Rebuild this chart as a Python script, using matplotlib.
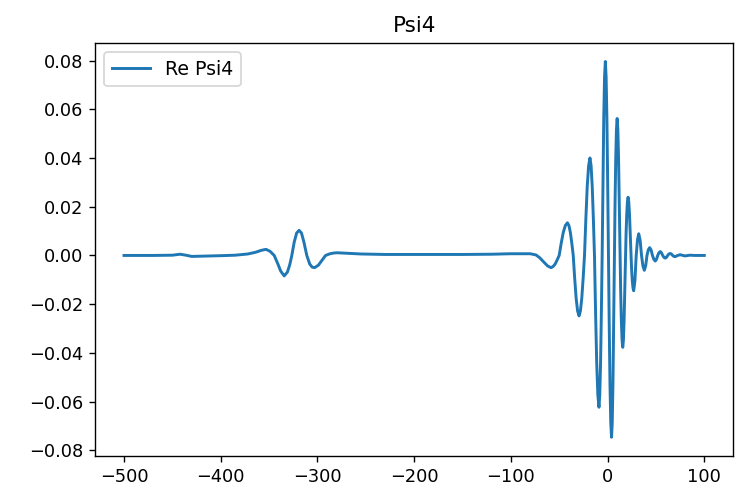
import matplotlib
matplotlib.use("Agg")
import matplotlib.pyplot as plt

# Time axis (x) and Re Psi4 values (y)
precursor_t = [-500, -470, -450, -442, -436, -430, -420, -400, -385, -372, -364, -358,
               -353.2, -349, -344.7, -341, -338, -334.4, -331, -328.5, -326.5, -324,
               -321.5, -319, -316.5, -314, -311, -308, -305.5, -302.9, -299, -295,
               -291.6, -287, -283, -279.6, -270, -255, -230, -200, -150, -120, -100,
               -90, -80, -74, -70, -66, -62]
precursor_v = [0.0, 0.0, 0.0001, 0.0005, 0.0001, -0.0004, -0.0003, -0.0001, 0.0001,
               0.0006, 0.0013, 0.0021, 0.0025, 0.0017, 0.0, -0.0034, -0.0064, -0.0084,
               -0.0068, -0.0036, 0.0, 0.0055, 0.0092, 0.0103, 0.0092, 0.0055, 0.0,
               -0.0035, -0.0048, -0.0050, -0.0040, -0.0018, 0.0, 0.0007, 0.0010,
               0.0011, 0.0009, 0.0006, 0.0004, 0.0004, 0.0004, 0.0005, 0.0007,
               0.0007, 0.0007, 0.0002, -0.0010, -0.0027, -0.0043]

burst_t = [-58.6, -56.46, -54.33, -52.19, -50.05, -47.91, -45.78, -43.64, -41.5,
           -40.0, -38.5, -37.0, -35.5, -34.0, -32.5, -31.0, -29.5,
           -28.09, -26.68, -25.26, -23.85, -22.44, -21.03, -19.61, -18.2,
           -17.04, -15.875, -14.71, -13.55, -12.39, -11.225, -10.06, -8.9,
           -8.075, -7.25, -6.425, -5.6, -4.775, -3.95, -3.125, -2.3,
           -1.5, -0.7, 0.1, 0.9, 1.7, 2.5, 3.3, 4.1,
           4.825, 5.55, 6.275, 7.0, 7.725, 8.45, 9.175, 9.9,
           10.625, 11.35, 12.075, 12.8, 13.525, 14.25, 14.975, 15.7,
           16.39, 17.075, 17.76, 18.45, 19.14, 19.825, 20.51, 21.2,
           21.925, 22.65, 23.375, 24.1, 24.825, 25.55, 26.275, 27.0,
           28.3, 29.6, 30.9, 32.2,
           33.65, 35.1, 36.55, 38.0,
           39.4, 40.75, 42.1, 43.5,
           44.95, 46.4, 47.85, 49.3,
           50.6, 51.85, 53.1, 54.4,
           55.7, 57.0, 58.3, 59.6,
           60.9, 62.15, 63.4, 64.7,
           66.0, 67.3, 68.6, 69.9,
           72.5, 75, 80, 85, 90, 100]
burst_v = [-0.0050, -0.0046, -0.0036, -0.0019, 0.0, 0.0051, 0.0095, 0.0123, 0.0134,
           0.0123, 0.0095, 0.0051, 0.0, -0.0094, -0.0176, -0.0228, -0.0248,
           -0.0228, -0.0176, -0.0094, 0.0, 0.0152, 0.0284, 0.0368, 0.0400,
           0.0368, 0.0284, 0.0152, 0.0, -0.0237, -0.0442, -0.0573, -0.0623,
           -0.0573, -0.0442, -0.0237, 0.0, 0.0302, 0.0565, 0.0732, 0.0796,
           0.0732, 0.0565, 0.0302, 0.0, -0.0283, -0.0530, -0.0686, -0.0746,
           -0.0686, -0.0530, -0.0283, 0.0, 0.0214, 0.0399, 0.0517, 0.0562,
           0.0517, 0.0399, 0.0214, 0.0, -0.0143, -0.0268, -0.0347, -0.0377,
           -0.0347, -0.0268, -0.0143, 0.0, 0.0091, 0.0170, 0.0220, 0.0239,
           0.0220, 0.0170, 0.0091, 0.0, -0.0055, -0.0103, -0.0133, -0.0145,
           -0.0103, 0.0, 0.0063, 0.0089,
           0.0063, 0.0, -0.0043, -0.0061,
           -0.0043, 0.0, 0.0023, 0.0032,
           0.0023, 0.0, -0.0016, -0.0023,
           -0.0016, 0.0, 0.0011, 0.0016,
           0.0011, 0.0, -0.0008, -0.0011,
           -0.0008, 0.0, 0.0006, 0.0008,
           0.0006, 0.0, -0.0004, -0.0005,
           0.0, 0.0003, -0.0002, 0.0001, 0.0, 0.0]

t = precursor_t + burst_t
re_psi4 = precursor_v + burst_v

fig = plt.figure(figsize=(6.0, 488 / 124), dpi=124)
ax = fig.add_axes([95 / 744, 1 - 456 / 488, (733.3 - 95) / 744, (456 - 42.7) / 488])
ax.plot(t, re_psi4, label="Re Psi4", color="#1f77b4", linewidth=1.7)
ax.set_title("Psi4", fontsize=12.5)
ax.tick_params(labelsize=10.3)
ax.legend(loc="upper left", fontsize=11)
fig.savefig("out.png", dpi=124)
